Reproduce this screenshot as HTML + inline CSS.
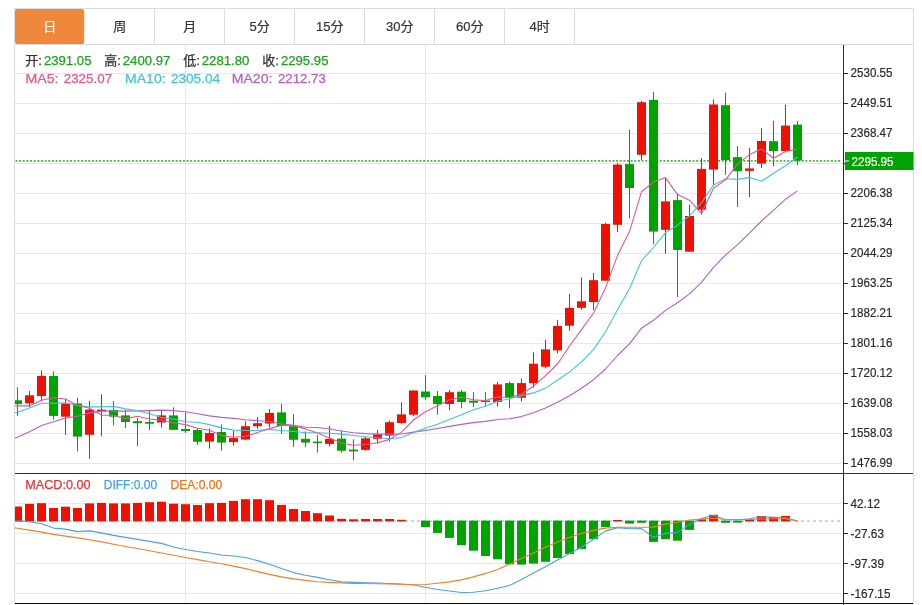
<!DOCTYPE html>
<html lang="zh"><head><meta charset="utf-8"><title>K线图</title>
<style>html,body{margin:0;padding:0;background:#fff;}svg{display:block;}text{font-family:"Liberation Sans","Noto Sans CJK SC",sans-serif;}</style></head><body>
<svg width="922" height="605" viewBox="0 0 922 605">
<rect x="0" y="0" width="922" height="605" fill="#ffffff"/>
<defs><clipPath id="cp"><rect x="15" y="45" width="828" height="559"/></clipPath></defs>
<g stroke="#e0eaf2" stroke-width="1" shape-rendering="crispEdges">
<line x1="15" y1="73.5" x2="843" y2="73.5"/>
<line x1="15" y1="103.5" x2="843" y2="103.5"/>
<line x1="15" y1="133.5" x2="843" y2="133.5"/>
<line x1="15" y1="163.5" x2="843" y2="163.5"/>
<line x1="15" y1="193.5" x2="843" y2="193.5"/>
<line x1="15" y1="223.5" x2="843" y2="223.5"/>
<line x1="15" y1="253.5" x2="843" y2="253.5"/>
<line x1="15" y1="283.5" x2="843" y2="283.5"/>
<line x1="15" y1="313.5" x2="843" y2="313.5"/>
<line x1="15" y1="343.5" x2="843" y2="343.5"/>
<line x1="15" y1="373.5" x2="843" y2="373.5"/>
<line x1="15" y1="403.5" x2="843" y2="403.5"/>
<line x1="15" y1="433.5" x2="843" y2="433.5"/>
<line x1="15" y1="463.5" x2="843" y2="463.5"/>
<line x1="15" y1="503.5" x2="843" y2="503.5"/>
<line x1="15" y1="533.5" x2="843" y2="533.5"/>
<line x1="15" y1="563.5" x2="843" y2="563.5"/>
<line x1="15" y1="593.5" x2="843" y2="593.5"/>
<line x1="185.5" y1="45" x2="185.5" y2="603"/>
<line x1="425.5" y1="45" x2="425.5" y2="603"/>
</g>
<g stroke="#dcdcdc" stroke-width="1" shape-rendering="crispEdges">
<line x1="14" y1="8.5" x2="914" y2="8.5"/>
<line x1="14" y1="44.5" x2="914" y2="44.5"/>
<line x1="14.5" y1="8" x2="14.5" y2="605"/>
<line x1="913.5" y1="8" x2="913.5" y2="605"/>
<line x1="154.5" y1="9" x2="154.5" y2="44"/>
<line x1="224.5" y1="9" x2="224.5" y2="44"/>
<line x1="294.5" y1="9" x2="294.5" y2="44"/>
<line x1="364.5" y1="9" x2="364.5" y2="44"/>
<line x1="434.5" y1="9" x2="434.5" y2="44"/>
<line x1="504.5" y1="9" x2="504.5" y2="44"/>
<line x1="574.5" y1="9" x2="574.5" y2="44"/>
</g>
<rect x="15" y="9" width="69.2" height="35" rx="2" ry="2" fill="#f0883c"/>
<g font-size="13" text-anchor="middle">
<text x="49.7" y="31.0" fill="#ffffff" stroke="#ffffff" stroke-width="0.2">日</text>
<text x="119.7" y="31.0" fill="#333333" stroke="#333333" stroke-width="0.2">周</text>
<text x="189.7" y="31.0" fill="#333333" stroke="#333333" stroke-width="0.2">月</text>
<text x="259.7" y="31.0" fill="#333333" stroke="#333333" stroke-width="0.2">5分</text>
<text x="329.7" y="31.0" fill="#333333" stroke="#333333" stroke-width="0.2">15分</text>
<text x="399.7" y="31.0" fill="#333333" stroke="#333333" stroke-width="0.2">30分</text>
<text x="469.7" y="31.0" fill="#333333" stroke="#333333" stroke-width="0.2">60分</text>
<text x="539.7" y="31.0" fill="#333333" stroke="#333333" stroke-width="0.2">4时</text>
</g>
<line x1="15.5" y1="160.9" x2="841.5" y2="160.9" stroke="#45b745" stroke-width="1.8" stroke-dasharray="2 1.64"/>
<g clip-path="url(#cp)">
<rect x="17" y="387.2" width="1" height="28.7" fill="#00a300"/>
<rect x="13" y="400.3" width="9" height="3.8" fill="#00a300"/>
<rect x="29" y="391.0" width="1" height="16.4" fill="#ee1100"/>
<rect x="25" y="395.3" width="9" height="8.0" fill="#ee1100"/>
<rect x="41" y="370.6" width="1" height="31.0" fill="#ee1100"/>
<rect x="37" y="375.9" width="9" height="20.1" fill="#ee1100"/>
<rect x="53" y="371.4" width="1" height="48.3" fill="#00a300"/>
<rect x="49" y="375.9" width="9" height="40.0" fill="#00a300"/>
<rect x="65" y="399.0" width="1" height="35.8" fill="#ee1100"/>
<rect x="61" y="403.6" width="9" height="13.1" fill="#ee1100"/>
<rect x="77" y="397.8" width="1" height="53.4" fill="#00a300"/>
<rect x="73" y="403.6" width="9" height="33.0" fill="#00a300"/>
<rect x="89" y="401.0" width="1" height="57.7" fill="#ee1100"/>
<rect x="85" y="409.6" width="9" height="25.2" fill="#ee1100"/>
<rect x="101" y="394.3" width="1" height="42.0" fill="#ee1100"/>
<rect x="97" y="409.6" width="9" height="1.5" fill="#ee1100"/>
<rect x="113" y="401.0" width="1" height="24.5" fill="#00a300"/>
<rect x="109" y="409.9" width="9" height="6.8" fill="#00a300"/>
<rect x="125" y="409.6" width="1" height="18.4" fill="#00a300"/>
<rect x="121" y="415.4" width="9" height="6.6" fill="#00a300"/>
<rect x="137" y="418.0" width="1" height="27.9" fill="#00a300"/>
<rect x="133" y="421.2" width="9" height="2.0" fill="#00a300"/>
<rect x="149" y="410.4" width="1" height="19.6" fill="#00a300"/>
<rect x="145" y="422.0" width="9" height="1.7" fill="#00a300"/>
<rect x="161" y="410.4" width="1" height="17.1" fill="#ee1100"/>
<rect x="157" y="415.4" width="9" height="7.1" fill="#ee1100"/>
<rect x="173" y="407.4" width="1" height="22.6" fill="#00a300"/>
<rect x="169" y="415.4" width="9" height="14.4" fill="#00a300"/>
<rect x="185" y="412.4" width="1" height="20.6" fill="#00a300"/>
<rect x="181" y="429.0" width="9" height="2.0" fill="#00a300"/>
<rect x="197" y="428.0" width="1" height="16.9" fill="#00a300"/>
<rect x="193" y="430.0" width="9" height="11.8" fill="#00a300"/>
<rect x="209" y="428.5" width="1" height="20.1" fill="#ee1100"/>
<rect x="205" y="433.0" width="9" height="8.6" fill="#ee1100"/>
<rect x="221" y="424.5" width="1" height="26.2" fill="#00a300"/>
<rect x="217" y="432.0" width="9" height="10.6" fill="#00a300"/>
<rect x="233" y="431.0" width="1" height="14.6" fill="#ee1100"/>
<rect x="229" y="438.1" width="9" height="4.0" fill="#ee1100"/>
<rect x="245" y="421.2" width="1" height="18.6" fill="#ee1100"/>
<rect x="241" y="426.2" width="9" height="13.4" fill="#ee1100"/>
<rect x="257" y="417.2" width="1" height="11.6" fill="#ee1100"/>
<rect x="253" y="423.2" width="9" height="3.0" fill="#ee1100"/>
<rect x="269" y="409.1" width="1" height="18.4" fill="#ee1100"/>
<rect x="265" y="412.9" width="9" height="10.6" fill="#ee1100"/>
<rect x="281" y="403.8" width="1" height="30.0" fill="#00a300"/>
<rect x="277" y="412.4" width="9" height="13.6" fill="#00a300"/>
<rect x="293" y="414.2" width="1" height="32.7" fill="#00a300"/>
<rect x="289" y="426.2" width="9" height="13.6" fill="#00a300"/>
<rect x="305" y="431.3" width="1" height="16.1" fill="#00a300"/>
<rect x="301" y="438.8" width="9" height="3.8" fill="#00a300"/>
<rect x="317" y="435.0" width="1" height="17.7" fill="#00a300"/>
<rect x="313" y="441.6" width="9" height="1.5" fill="#00a300"/>
<rect x="329" y="426.0" width="1" height="20.4" fill="#ee1100"/>
<rect x="325" y="438.8" width="9" height="5.1" fill="#ee1100"/>
<rect x="341" y="430.5" width="1" height="22.2" fill="#00a300"/>
<rect x="337" y="438.6" width="9" height="12.1" fill="#00a300"/>
<rect x="353" y="439.3" width="1" height="20.7" fill="#00a300"/>
<rect x="349" y="449.6" width="9" height="1.8" fill="#00a300"/>
<rect x="365" y="436.8" width="1" height="13.9" fill="#ee1100"/>
<rect x="361" y="438.3" width="9" height="11.6" fill="#ee1100"/>
<rect x="377" y="430.0" width="1" height="13.6" fill="#ee1100"/>
<rect x="373" y="434.4" width="9" height="4.5" fill="#ee1100"/>
<rect x="389" y="420.7" width="1" height="20.9" fill="#ee1100"/>
<rect x="385" y="422.2" width="9" height="13.4" fill="#ee1100"/>
<rect x="401" y="402.3" width="1" height="21.4" fill="#ee1100"/>
<rect x="397" y="414.4" width="9" height="8.6" fill="#ee1100"/>
<rect x="413" y="390.3" width="1" height="25.6" fill="#ee1100"/>
<rect x="409" y="390.5" width="9" height="24.2" fill="#ee1100"/>
<rect x="425" y="375.2" width="1" height="24.4" fill="#00a300"/>
<rect x="421" y="391.5" width="9" height="5.8" fill="#00a300"/>
<rect x="437" y="391.0" width="1" height="23.7" fill="#00a300"/>
<rect x="433" y="396.0" width="9" height="8.1" fill="#00a300"/>
<rect x="449" y="389.9" width="1" height="20.4" fill="#ee1100"/>
<rect x="445" y="392.2" width="9" height="11.8" fill="#ee1100"/>
<rect x="461" y="389.9" width="1" height="18.4" fill="#00a300"/>
<rect x="457" y="391.7" width="9" height="10.3" fill="#00a300"/>
<rect x="473" y="391.9" width="1" height="15.1" fill="#00a300"/>
<rect x="469" y="400.7" width="9" height="2.0" fill="#00a300"/>
<rect x="485" y="391.9" width="1" height="13.9" fill="#00a300"/>
<rect x="481" y="400.5" width="9" height="1.5" fill="#00a300"/>
<rect x="497" y="381.8" width="1" height="24.7" fill="#ee1100"/>
<rect x="493" y="384.4" width="9" height="17.6" fill="#ee1100"/>
<rect x="509" y="381.3" width="1" height="27.0" fill="#00a300"/>
<rect x="505" y="383.1" width="9" height="14.6" fill="#00a300"/>
<rect x="521" y="378.6" width="1" height="22.9" fill="#ee1100"/>
<rect x="517" y="383.1" width="9" height="14.6" fill="#ee1100"/>
<rect x="533" y="352.4" width="1" height="35.0" fill="#ee1100"/>
<rect x="529" y="363.7" width="9" height="19.4" fill="#ee1100"/>
<rect x="545" y="339.8" width="1" height="28.5" fill="#ee1100"/>
<rect x="541" y="349.4" width="9" height="17.3" fill="#ee1100"/>
<rect x="557" y="319.9" width="1" height="33.5" fill="#ee1100"/>
<rect x="553" y="326.0" width="9" height="24.4" fill="#ee1100"/>
<rect x="569" y="293.8" width="1" height="37.0" fill="#ee1100"/>
<rect x="565" y="307.9" width="9" height="17.8" fill="#ee1100"/>
<rect x="581" y="277.4" width="1" height="32.2" fill="#ee1100"/>
<rect x="577" y="301.3" width="9" height="6.5" fill="#ee1100"/>
<rect x="593" y="273.1" width="1" height="36.9" fill="#ee1100"/>
<rect x="589" y="280.2" width="9" height="21.8" fill="#ee1100"/>
<rect x="605" y="222.8" width="1" height="57.9" fill="#ee1100"/>
<rect x="601" y="224.0" width="9" height="56.7" fill="#ee1100"/>
<rect x="617" y="163.1" width="1" height="69.0" fill="#ee1100"/>
<rect x="613" y="164.6" width="9" height="60.2" fill="#ee1100"/>
<rect x="629" y="129.6" width="1" height="88.9" fill="#00a300"/>
<rect x="625" y="164.1" width="9" height="23.9" fill="#00a300"/>
<rect x="641" y="101.0" width="1" height="59.1" fill="#ee1100"/>
<rect x="637" y="102.2" width="9" height="52.6" fill="#ee1100"/>
<rect x="653" y="92.1" width="1" height="152.1" fill="#00a300"/>
<rect x="649" y="99.9" width="9" height="131.7" fill="#00a300"/>
<rect x="665" y="177.0" width="1" height="76.7" fill="#ee1100"/>
<rect x="661" y="201.4" width="9" height="28.4" fill="#ee1100"/>
<rect x="677" y="193.3" width="1" height="103.7" fill="#00a300"/>
<rect x="673" y="200.1" width="9" height="49.9" fill="#00a300"/>
<rect x="689" y="204.7" width="1" height="47.0" fill="#ee1100"/>
<rect x="685" y="216.0" width="9" height="35.7" fill="#ee1100"/>
<rect x="701" y="158.1" width="1" height="56.6" fill="#ee1100"/>
<rect x="697" y="168.9" width="9" height="40.8" fill="#ee1100"/>
<rect x="713" y="99.4" width="1" height="86.6" fill="#ee1100"/>
<rect x="709" y="104.5" width="9" height="65.1" fill="#ee1100"/>
<rect x="725" y="92.6" width="1" height="82.3" fill="#00a300"/>
<rect x="721" y="105.2" width="9" height="54.9" fill="#00a300"/>
<rect x="737" y="146.2" width="1" height="60.7" fill="#00a300"/>
<rect x="733" y="157.1" width="9" height="14.1" fill="#00a300"/>
<rect x="749" y="148.0" width="1" height="49.1" fill="#ee1100"/>
<rect x="745" y="168.4" width="9" height="2.5" fill="#ee1100"/>
<rect x="761" y="127.9" width="1" height="40.2" fill="#ee1100"/>
<rect x="757" y="141.0" width="9" height="22.6" fill="#ee1100"/>
<rect x="773" y="120.8" width="1" height="45.6" fill="#00a300"/>
<rect x="769" y="141.2" width="9" height="9.8" fill="#00a300"/>
<rect x="785" y="104.7" width="1" height="46.3" fill="#ee1100"/>
<rect x="781" y="125.6" width="9" height="25.4" fill="#ee1100"/>
<rect x="797" y="121.0" width="1" height="44.3" fill="#00a300"/>
<rect x="793" y="124.6" width="9" height="35.9" fill="#00a300"/>
<polyline points="5.5,440.0 17.5,437.3 29.5,431.8 41.5,425.5 53.5,421.7 65.5,417.9 77.5,416.2 89.5,412.9 101.5,411.1 113.5,411.1 125.5,411.1 137.5,410.9 149.5,410.6 161.5,410.1 173.5,410.6 185.5,411.7 197.5,413.7 209.5,415.9 221.5,417.4 233.5,418.4 245.5,419.7 257.5,420.7 269.5,421.5 281.5,424.0 293.5,425.2 305.5,427.2 317.5,427.5 329.5,429.0 341.5,431.0 353.5,432.8 365.5,433.6 377.5,434.1 389.5,434.1 401.5,434.0 413.5,432.1 425.5,430.4 437.5,428.5 449.5,426.4 461.5,424.4 473.5,422.6 485.5,421.4 497.5,419.5 509.5,418.7 521.5,416.6 533.5,412.8 545.5,408.1 557.5,402.3 569.5,395.7 581.5,388.2 593.5,379.7 605.5,369.0 617.5,355.5 629.5,343.8 641.5,328.2 653.5,320.2 665.5,310.4 677.5,302.7 689.5,293.9 701.5,282.3 713.5,267.3 725.5,255.2 737.5,244.6 749.5,233.1 761.5,221.0 773.5,210.4 785.5,199.2 797.5,190.9" fill="none" stroke="#b25fc9" stroke-width="1.1" stroke-linejoin="round" />
<polyline points="5.5,414.5 17.5,412.2 29.5,407.9 41.5,403.3 53.5,403.3 65.5,402.8 77.5,405.4 89.5,406.9 101.5,406.9 113.5,406.4 125.5,408.9 137.5,410.8 149.5,413.7 161.5,417.6 173.5,419.0 185.5,421.8 197.5,422.3 209.5,424.6 221.5,427.9 233.5,430.1 245.5,430.5 257.5,430.5 269.5,429.4 281.5,430.5 293.5,431.5 305.5,432.6 317.5,432.8 329.5,433.3 341.5,434.1 353.5,435.5 365.5,436.7 377.5,437.8 389.5,438.7 401.5,437.6 413.5,432.6 425.5,428.1 437.5,424.2 449.5,419.6 461.5,414.7 473.5,409.8 485.5,406.2 497.5,401.2 509.5,398.7 521.5,395.6 533.5,392.9 545.5,388.1 557.5,380.3 569.5,371.9 581.5,361.8 593.5,349.6 605.5,331.8 617.5,309.8 629.5,288.8 641.5,260.7 653.5,247.5 665.5,232.7 677.5,225.1 689.5,215.9 701.5,202.7 713.5,185.1 725.5,178.7 737.5,179.4 749.5,177.4 761.5,181.3 773.5,173.2 785.5,165.7 797.5,156.7" fill="none" stroke="#3cc6dc" stroke-width="1.1" stroke-linejoin="round" />
<polyline points="5.5,406.5 17.5,405.9 29.5,405.9 41.5,400.3 53.5,397.8 65.5,399.0 77.5,405.5 89.5,408.3 101.5,415.1 113.5,415.2 125.5,418.9 137.5,416.2 149.5,419.0 161.5,420.2 173.5,422.8 185.5,424.6 197.5,428.3 209.5,430.2 221.5,435.6 233.5,437.3 245.5,436.3 257.5,432.6 269.5,428.6 281.5,425.3 293.5,425.6 305.5,428.9 317.5,432.9 329.5,438.1 341.5,443.0 353.5,445.3 365.5,444.5 377.5,442.7 389.5,439.4 401.5,432.1 413.5,420.0 425.5,411.8 437.5,405.7 449.5,399.7 461.5,397.2 473.5,399.7 485.5,400.6 497.5,396.7 509.5,397.8 521.5,394.0 533.5,386.2 545.5,375.7 557.5,364.0 569.5,346.0 581.5,329.7 593.5,313.0 605.5,287.9 617.5,255.6 629.5,231.6 641.5,191.8 653.5,182.1 665.5,177.6 677.5,194.6 689.5,200.2 701.5,213.6 713.5,188.2 725.5,179.9 737.5,164.1 749.5,154.6 761.5,149.0 773.5,158.3 785.5,151.4 797.5,149.3" fill="none" stroke="#e9558a" stroke-width="1.1" stroke-linejoin="round" />
</g>
<line x1="15" y1="521.1" x2="841" y2="521.1" stroke="#a6d9f3" stroke-width="1.8" stroke-dasharray="3 3"/>
<g clip-path="url(#cp)">
<rect x="13" y="506.5" width="9" height="14.9" fill="#ee1100"/>
<rect x="25" y="503.9" width="9" height="17.5" fill="#ee1100"/>
<rect x="37" y="503.2" width="9" height="18.2" fill="#ee1100"/>
<rect x="49" y="508.0" width="9" height="13.4" fill="#ee1100"/>
<rect x="61" y="506.7" width="9" height="14.7" fill="#ee1100"/>
<rect x="73" y="508.0" width="9" height="13.4" fill="#ee1100"/>
<rect x="85" y="503.4" width="9" height="18.0" fill="#ee1100"/>
<rect x="97" y="502.9" width="9" height="18.5" fill="#ee1100"/>
<rect x="109" y="503.4" width="9" height="18.0" fill="#ee1100"/>
<rect x="121" y="503.4" width="9" height="18.0" fill="#ee1100"/>
<rect x="133" y="502.9" width="9" height="18.5" fill="#ee1100"/>
<rect x="145" y="502.2" width="9" height="19.2" fill="#ee1100"/>
<rect x="157" y="501.7" width="9" height="19.7" fill="#ee1100"/>
<rect x="169" y="503.7" width="9" height="17.7" fill="#ee1100"/>
<rect x="181" y="504.2" width="9" height="17.2" fill="#ee1100"/>
<rect x="193" y="505.0" width="9" height="16.4" fill="#ee1100"/>
<rect x="205" y="503.2" width="9" height="18.2" fill="#ee1100"/>
<rect x="217" y="502.9" width="9" height="18.5" fill="#ee1100"/>
<rect x="229" y="500.9" width="9" height="20.5" fill="#ee1100"/>
<rect x="241" y="499.2" width="9" height="22.2" fill="#ee1100"/>
<rect x="253" y="499.2" width="9" height="22.2" fill="#ee1100"/>
<rect x="265" y="500.2" width="9" height="21.2" fill="#ee1100"/>
<rect x="277" y="504.9" width="9" height="16.5" fill="#ee1100"/>
<rect x="289" y="509.0" width="9" height="12.4" fill="#ee1100"/>
<rect x="301" y="511.0" width="9" height="10.4" fill="#ee1100"/>
<rect x="313" y="513.2" width="9" height="8.2" fill="#ee1100"/>
<rect x="325" y="515.5" width="9" height="5.9" fill="#ee1100"/>
<rect x="337" y="518.8" width="9" height="2.6" fill="#ee1100"/>
<rect x="349" y="519.3" width="9" height="2.1" fill="#ee1100"/>
<rect x="361" y="519.0" width="9" height="2.4" fill="#ee1100"/>
<rect x="373" y="519.0" width="9" height="2.4" fill="#ee1100"/>
<rect x="385" y="519.0" width="9" height="2.4" fill="#ee1100"/>
<rect x="397" y="519.8" width="9" height="1.6" fill="#ee1100"/>
<rect x="421" y="520.6" width="9" height="6.5" fill="#00a300"/>
<rect x="433" y="520.6" width="9" height="12.3" fill="#00a300"/>
<rect x="445" y="520.6" width="9" height="17.3" fill="#00a300"/>
<rect x="457" y="520.6" width="9" height="24.6" fill="#00a300"/>
<rect x="469" y="520.6" width="9" height="30.1" fill="#00a300"/>
<rect x="481" y="520.6" width="9" height="35.4" fill="#00a300"/>
<rect x="493" y="520.6" width="9" height="38.7" fill="#00a300"/>
<rect x="505" y="520.6" width="9" height="43.7" fill="#00a300"/>
<rect x="517" y="520.6" width="9" height="44.0" fill="#00a300"/>
<rect x="529" y="520.6" width="9" height="43.0" fill="#00a300"/>
<rect x="541" y="520.6" width="9" height="41.2" fill="#00a300"/>
<rect x="553" y="520.6" width="9" height="37.4" fill="#00a300"/>
<rect x="565" y="520.6" width="9" height="33.4" fill="#00a300"/>
<rect x="577" y="520.6" width="9" height="28.4" fill="#00a300"/>
<rect x="589" y="520.6" width="9" height="18.6" fill="#00a300"/>
<rect x="601" y="520.6" width="9" height="6.5" fill="#00a300"/>
<rect x="613" y="520.0" width="9" height="1.4" fill="#ee1100"/>
<rect x="625" y="520.6" width="9" height="3.0" fill="#00a300"/>
<rect x="637" y="520.6" width="9" height="2.2" fill="#00a300"/>
<rect x="649" y="520.6" width="9" height="21.3" fill="#00a300"/>
<rect x="661" y="520.6" width="9" height="18.6" fill="#00a300"/>
<rect x="673" y="520.6" width="9" height="20.1" fill="#00a300"/>
<rect x="685" y="520.6" width="9" height="9.3" fill="#00a300"/>
<rect x="697" y="519.3" width="9" height="2.1" fill="#ee1100"/>
<rect x="709" y="514.8" width="9" height="6.6" fill="#ee1100"/>
<rect x="721" y="520.6" width="9" height="2.2" fill="#00a300"/>
<rect x="733" y="520.6" width="9" height="2.0" fill="#00a300"/>
<rect x="745" y="519.3" width="9" height="2.1" fill="#ee1100"/>
<rect x="757" y="516.0" width="9" height="5.4" fill="#ee1100"/>
<rect x="769" y="517.0" width="9" height="4.4" fill="#ee1100"/>
<rect x="781" y="516.0" width="9" height="5.4" fill="#ee1100"/>
<polyline points="5.5,520.8 17.5,521.0 29.5,521.6 41.5,523.8 53.5,528.1 65.5,529.1 77.5,531.6 89.5,530.9 101.5,532.9 113.5,535.4 125.5,537.4 137.5,539.4 149.5,541.4 161.5,543.4 173.5,547.0 185.5,549.5 197.5,551.5 209.5,553.0 221.5,555.0 233.5,556.0 245.5,557.5 257.5,560.6 269.5,564.3 281.5,568.6 293.5,572.6 305.5,575.2 317.5,577.4 329.5,579.7 341.5,581.9 353.5,582.4 365.5,582.7 377.5,583.0 389.5,583.5 401.5,584.0 413.5,585.0 425.5,587.2 437.5,589.5 449.5,591.0 461.5,592.5 473.5,592.3 485.5,590.8 497.5,588.2 509.5,585.5 521.5,579.4 533.5,573.1 545.5,566.8 557.5,560.0 569.5,553.5 581.5,547.2 593.5,539.2 605.5,531.1 617.5,527.6 629.5,528.8 641.5,528.6 653.5,537.2 665.5,533.4 677.5,532.4 689.5,524.6 701.5,518.5 713.5,515.3 725.5,519.8 737.5,519.8 749.5,518.8 761.5,516.8 773.5,517.3 785.5,517.8 797.5,521.0" fill="none" stroke="#4b9fe9" stroke-width="1.1" stroke-linejoin="round" />
<polyline points="5.5,526.2 17.5,528.3 29.5,530.1 41.5,532.1 53.5,534.4 65.5,536.1 77.5,537.9 89.5,539.7 101.5,541.9 113.5,544.2 125.5,546.5 137.5,548.5 149.5,550.7 161.5,553.0 173.5,555.3 185.5,557.5 197.5,559.6 209.5,561.8 221.5,563.8 233.5,566.1 245.5,568.6 257.5,571.6 269.5,574.4 281.5,576.9 293.5,578.9 305.5,580.4 317.5,581.7 329.5,582.4 341.5,583.0 353.5,583.5 365.5,583.5 377.5,583.7 389.5,584.0 401.5,584.2 413.5,584.7 425.5,584.5 437.5,583.2 449.5,581.9 461.5,579.9 473.5,576.9 485.5,573.4 497.5,569.4 509.5,564.3 521.5,558.5 533.5,553.0 545.5,547.2 557.5,541.9 569.5,537.4 581.5,533.4 593.5,530.4 605.5,528.1 617.5,527.3 629.5,527.3 641.5,527.3 653.5,527.1 665.5,524.1 677.5,522.3 689.5,520.0 701.5,519.0 713.5,518.3 725.5,519.5 737.5,519.5 749.5,519.5 761.5,519.0 773.5,518.8 785.5,518.8 797.5,521.0" fill="none" stroke="#f07f2a" stroke-width="1.1" stroke-linejoin="round" />
</g>
<g stroke="#2a2a2a" stroke-width="1" shape-rendering="crispEdges">
<line x1="843.5" y1="45" x2="843.5" y2="605"/>
<line x1="15" y1="473.5" x2="913" y2="473.5"/>
<line x1="15" y1="603.5" x2="913" y2="603.5" stroke="#0a0a0a"/>
<line x1="844" y1="73.5" x2="848" y2="73.5"/>
<line x1="844" y1="103.5" x2="848" y2="103.5"/>
<line x1="844" y1="133.5" x2="848" y2="133.5"/>
<line x1="844" y1="163.5" x2="848" y2="163.5"/>
<line x1="844" y1="193.5" x2="848" y2="193.5"/>
<line x1="844" y1="223.5" x2="848" y2="223.5"/>
<line x1="844" y1="253.5" x2="848" y2="253.5"/>
<line x1="844" y1="283.5" x2="848" y2="283.5"/>
<line x1="844" y1="313.5" x2="848" y2="313.5"/>
<line x1="844" y1="343.5" x2="848" y2="343.5"/>
<line x1="844" y1="373.5" x2="848" y2="373.5"/>
<line x1="844" y1="403.5" x2="848" y2="403.5"/>
<line x1="844" y1="433.5" x2="848" y2="433.5"/>
<line x1="844" y1="463.5" x2="848" y2="463.5"/>
<line x1="844" y1="503.5" x2="848" y2="503.5"/>
<line x1="844" y1="533.5" x2="848" y2="533.5"/>
<line x1="844" y1="563.5" x2="848" y2="563.5"/>
<line x1="844" y1="593.5" x2="848" y2="593.5"/>
</g>
<g font-size="12.5" fill="#2a2a2a" stroke="#2a2a2a" stroke-width="0.2">
<text x="850.5" y="77.3" textLength="42" lengthAdjust="spacingAndGlyphs">2530.55</text>
<text x="850.5" y="107.3" textLength="42" lengthAdjust="spacingAndGlyphs">2449.51</text>
<text x="850.5" y="137.3" textLength="42" lengthAdjust="spacingAndGlyphs">2368.47</text>
<text x="850.5" y="197.3" textLength="42" lengthAdjust="spacingAndGlyphs">2206.38</text>
<text x="850.5" y="227.3" textLength="42" lengthAdjust="spacingAndGlyphs">2125.34</text>
<text x="850.5" y="257.3" textLength="42" lengthAdjust="spacingAndGlyphs">2044.29</text>
<text x="850.5" y="287.3" textLength="42" lengthAdjust="spacingAndGlyphs">1963.25</text>
<text x="850.5" y="317.3" textLength="42" lengthAdjust="spacingAndGlyphs">1882.21</text>
<text x="850.5" y="347.3" textLength="42" lengthAdjust="spacingAndGlyphs">1801.16</text>
<text x="850.5" y="377.3" textLength="42" lengthAdjust="spacingAndGlyphs">1720.12</text>
<text x="850.5" y="407.3" textLength="42" lengthAdjust="spacingAndGlyphs">1639.08</text>
<text x="850.5" y="437.3" textLength="42" lengthAdjust="spacingAndGlyphs">1558.03</text>
<text x="850.5" y="467.3" textLength="42" lengthAdjust="spacingAndGlyphs">1476.99</text>
<text x="850.5" y="507.5" textLength="29.5" lengthAdjust="spacingAndGlyphs">42.12</text>
<text x="850.5" y="537.5" textLength="33.5" lengthAdjust="spacingAndGlyphs">-27.63</text>
<text x="850.5" y="567.5" textLength="33.5" lengthAdjust="spacingAndGlyphs">-97.39</text>
<text x="850.5" y="597.5" textLength="40" lengthAdjust="spacingAndGlyphs">-167.15</text>
</g>
<rect x="845" y="152" width="68.5" height="18" fill="#00a300"/>
<rect x="845" y="160.5" width="4" height="1" fill="#ffffff"/>
<text x="851.5" y="165.6" font-size="12.5" fill="#ffffff" stroke="#ffffff" stroke-width="0.2" textLength="42" lengthAdjust="spacingAndGlyphs">2295.95</text>
<g font-size="13.4" stroke-width="0.25">
<text x="25.3" y="64.8" fill="#333333" stroke="#333333" font-size="13">开:</text>
<text x="43.9" y="65.2" fill="#1aa51a" stroke="#1aa51a" textLength="47.6" lengthAdjust="spacingAndGlyphs">2391.05</text>
<text x="104.3" y="64.8" fill="#333333" stroke="#333333" font-size="13">高:</text>
<text x="122.8" y="65.2" fill="#1aa51a" stroke="#1aa51a" textLength="47.6" lengthAdjust="spacingAndGlyphs">2400.97</text>
<text x="183.3" y="64.8" fill="#333333" stroke="#333333" font-size="13">低:</text>
<text x="201.8" y="65.2" fill="#1aa51a" stroke="#1aa51a" textLength="47.6" lengthAdjust="spacingAndGlyphs">2281.80</text>
<text x="262.3" y="64.8" fill="#333333" stroke="#333333" font-size="13">收:</text>
<text x="280.9" y="65.2" fill="#1aa51a" stroke="#1aa51a" textLength="47.6" lengthAdjust="spacingAndGlyphs">2295.95</text>
<text x="25.5" y="83.2" fill="#e9558a" stroke="#e9558a" textLength="33.0" lengthAdjust="spacingAndGlyphs">MA5:</text>
<text x="63.7" y="83.2" fill="#e9558a" stroke="#e9558a" textLength="48.4" lengthAdjust="spacingAndGlyphs">2325.07</text>
<text x="125.0" y="83.2" fill="#3cc6dc" stroke="#3cc6dc" textLength="40.6" lengthAdjust="spacingAndGlyphs">MA10:</text>
<text x="171.0" y="83.2" fill="#3cc6dc" stroke="#3cc6dc" textLength="49.0" lengthAdjust="spacingAndGlyphs">2305.04</text>
<text x="231.8" y="83.2" fill="#b25fc9" stroke="#b25fc9" textLength="40.6" lengthAdjust="spacingAndGlyphs">MA20:</text>
<text x="277.9" y="83.2" fill="#b25fc9" stroke="#b25fc9" textLength="48.0" lengthAdjust="spacingAndGlyphs">2212.73</text>
</g>
<g font-size="12.6" stroke-width="0.25">
<text x="25.2" y="488.9" fill="#ee3030" stroke="#ee3030" textLength="65.4" lengthAdjust="spacingAndGlyphs">MACD:0.00</text>
<text x="103.7" y="488.9" fill="#449ef0" stroke="#449ef0" textLength="53.5" lengthAdjust="spacingAndGlyphs">DIFF:0.00</text>
<text x="170.4" y="488.9" fill="#f47314" stroke="#f47314" textLength="51.8" lengthAdjust="spacingAndGlyphs">DEA:0.00</text>
</g>
</svg>
</body></html>
